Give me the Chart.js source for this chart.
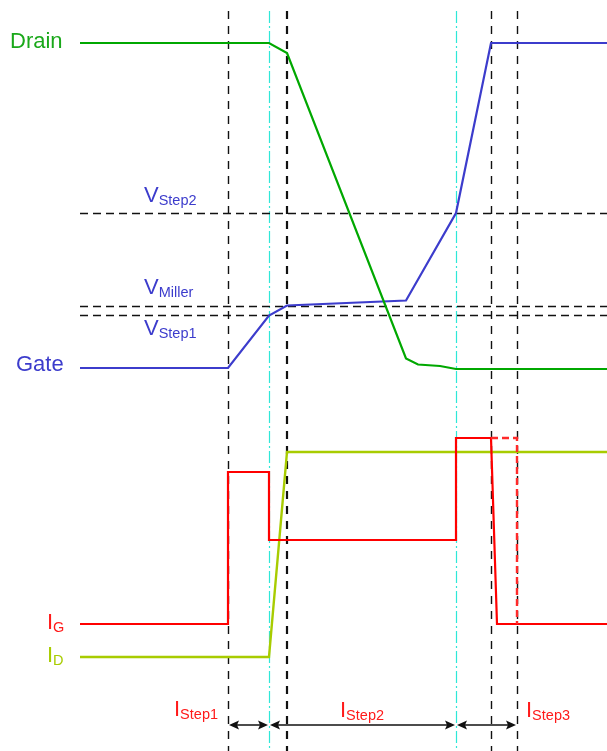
<!DOCTYPE html>
<html>
<head>
<meta charset="utf-8">
<script src="https://cdn.jsdelivr.net/npm/chart.js@4"></script>
<style>
  html, body { margin: 0; padding: 0; background: #fff; }
  #wrap { width: 607px; height: 751px; }
</style>
</head>
<body>
<div id="wrap"><canvas id="myChart" width="607" height="751"></canvas></div>
<script>
// time axis (arbitrary units) and signal levels (arbitrary units)
var drainT = [16, 53.8, 57.4, 81.2, 83.6, 88, 91.2, 121.4];
var drainV = [141.6, 141.6, 139.6, 78.5, 77.3, 77.0, 76.4, 76.4];

var gateT = [16, 45.6, 53.8, 57.4, 81.2, 91.2, 98.2, 121.4];
var gateV = [76.6, 76.6, 87.1, 89.1, 90.1, 107.6, 141.6, 141.6];

var igT = [16, 45.6, 45.6, 53.8, 53.8, 91.2, 91.2, 98.2, 99.4, 121.4];
var igV = [25.4, 25.4, 55.8, 55.8, 42.2, 42.2, 62.6, 62.6, 25.4, 25.4];

var igAltT = [98.2, 103.4, 103.4];
var igAltV = [62.6, 62.6, 25.4];

var idT = [16, 53.8, 57.4, 121.4];
var idV = [18.8, 18.8, 59.8, 59.8];

var vLevels = [107.5, 88.9, 87.1];           // VStep2, VMiller, VStep1
var blackMarks = [45.7, 57.4, 98.3, 103.5];  // switching instants
var cyanMarks = [53.9, 91.3];

var arrowSpans = [[45.6, 53.8], [53.8, 91.2], [91.2, 103.4]];
var arrowLevel = 5.2;

var T_MIN = 0, T_MAX = 121.4, L_MIN = 0, L_MAX = 150.2;
var guideTop = 148;

var labels = [
  {t: 2.0, l: 140.6, main: 'Drain', sub: '', color: '#1aa81a'},
  {t: 3.2, l: 76.0, main: 'Gate', sub: '', color: '#3c3ccc'},
  {t: 28.8, l: 109.8, main: 'V', sub: 'Step2', color: '#3c3ccc'},
  {t: 28.8, l: 91.4, main: 'V', sub: 'Miller', color: '#3c3ccc'},
  {t: 28.8, l: 83.2, main: 'V', sub: 'Step1', color: '#3c3ccc'},
  {t: 9.4, l: 24.4, main: 'I', sub: 'G', color: '#ff1a1a'},
  {t: 9.4, l: 17.8, main: 'I', sub: 'D', color: '#a8cc00'},
  {t: 34.8, l: 7.0, main: 'I', sub: 'Step1', color: '#ff1a1a'},
  {t: 68.0, l: 6.8, main: 'I', sub: 'Step2', color: '#ff1a1a'},
  {t: 105.2, l: 6.8, main: 'I', sub: 'Step3', color: '#ff1a1a'}
];

function pts(ts, vs) {
  var out = [];
  for (var i = 0; i < ts.length; i++) out.push({x: ts[i], y: vs[i]});
  return out;
}

var datasets = [];

// horizontal reference levels
for (var i = 0; i < vLevels.length; i++) {
  datasets.push({
    data: pts([16, T_MAX], [vLevels[i], vLevels[i]]),
    borderColor: '#111', borderWidth: 1.4, borderDash: [8, 5], order: 5
  });
}
// vertical instants
for (var i = 0; i < blackMarks.length; i++) {
  datasets.push({
    data: pts([blackMarks[i], blackMarks[i]], [guideTop, L_MIN]),
    borderColor: '#111', borderWidth: blackMarks[i] == 57.4 ? 2.2 : 1.4,
    borderDash: [8, 7], order: 5
  });
}
for (var i = 0; i < cyanMarks.length; i++) {
  datasets.push({
    data: pts([cyanMarks[i], cyanMarks[i]], [guideTop, L_MIN]),
    borderColor: '#2ee8d8', borderWidth: 1.2, borderDash: [12, 3, 2, 3], order: 5
  });
}

datasets.push({label: 'Drain', data: pts(drainT, drainV), borderColor: '#00a800', borderWidth: 2.2, order: 1});
datasets.push({label: 'Gate', data: pts(gateT, gateV), borderColor: '#3c3ccc', borderWidth: 2.2, order: 1});
datasets.push({label: 'ID', data: pts(idT, idV), borderColor: '#a8cc00', borderWidth: 2.4, order: 2});
datasets.push({label: 'IG', data: pts(igT, igV), borderColor: '#ff0000', borderWidth: 2.2, order: 1});
datasets.push({label: 'IG alt', data: pts(igAltT, igAltV), borderColor: '#ff2a2a', borderWidth: 2.4, borderDash: [7, 4], order: 0});

for (var i = 0; i < datasets.length; i++) {
  datasets[i].showLine = true;
  datasets[i].pointRadius = 0;
  datasets[i].tension = 0;
  datasets[i].fill = false;
  datasets[i].clip = false;
}

var annotate = {
  id: 'annotate',
  afterDatasetsDraw: function(chart) {
    var ctx = chart.ctx;
    var xs = chart.scales.x, ys = chart.scales.y;
    ctx.save();
    // arrows
    var ay = ys.getPixelForValue(arrowLevel);
    ctx.strokeStyle = '#111';
    ctx.fillStyle = '#111';
    ctx.lineWidth = 1.5;
    for (var i = 0; i < arrowSpans.length; i++) {
      var a = xs.getPixelForValue(arrowSpans[i][0]) + 1;
      var b = xs.getPixelForValue(arrowSpans[i][1]) - 1;
      ctx.beginPath();
      ctx.moveTo(a + 6, ay);
      ctx.lineTo(b - 6, ay);
      ctx.stroke();
      ctx.beginPath();
      ctx.moveTo(a, ay); ctx.lineTo(a + 10, ay - 4.5); ctx.lineTo(a + 8, ay); ctx.lineTo(a + 10, ay + 4.5);
      ctx.closePath(); ctx.fill();
      ctx.beginPath();
      ctx.moveTo(b, ay); ctx.lineTo(b - 10, ay - 4.5); ctx.lineTo(b - 8, ay); ctx.lineTo(b - 10, ay + 4.5);
      ctx.closePath(); ctx.fill();
    }
    // labels
    ctx.textBaseline = 'alphabetic';
    ctx.textAlign = 'left';
    for (var i = 0; i < labels.length; i++) {
      var lb = labels[i];
      var x = xs.getPixelForValue(lb.t);
      var y = ys.getPixelForValue(lb.l);
      ctx.fillStyle = lb.color;
      ctx.font = '22px "Liberation Sans", Arial, sans-serif';
      ctx.fillText(lb.main, x, y);
      if (lb.sub) {
        var w = ctx.measureText(lb.main).width;
        ctx.font = '14.5px "Liberation Sans", Arial, sans-serif';
        ctx.fillText(lb.sub, x + w, y + 3);
      }
    }
    ctx.restore();
  }
};

new Chart('myChart', {
  type: 'scatter',
  data: {datasets: datasets},
  options: {
    responsive: false,
    animation: false,
    devicePixelRatio: 1,
    layout: {padding: 0},
    plugins: {legend: {display: false}, tooltip: {enabled: false}},
    scales: {
      x: {type: 'linear', display: false, min: T_MIN, max: T_MAX},
      y: {type: 'linear', display: false, min: L_MIN, max: L_MAX}
    }
  },
  plugins: [annotate]
});
</script>
</body>
</html>
